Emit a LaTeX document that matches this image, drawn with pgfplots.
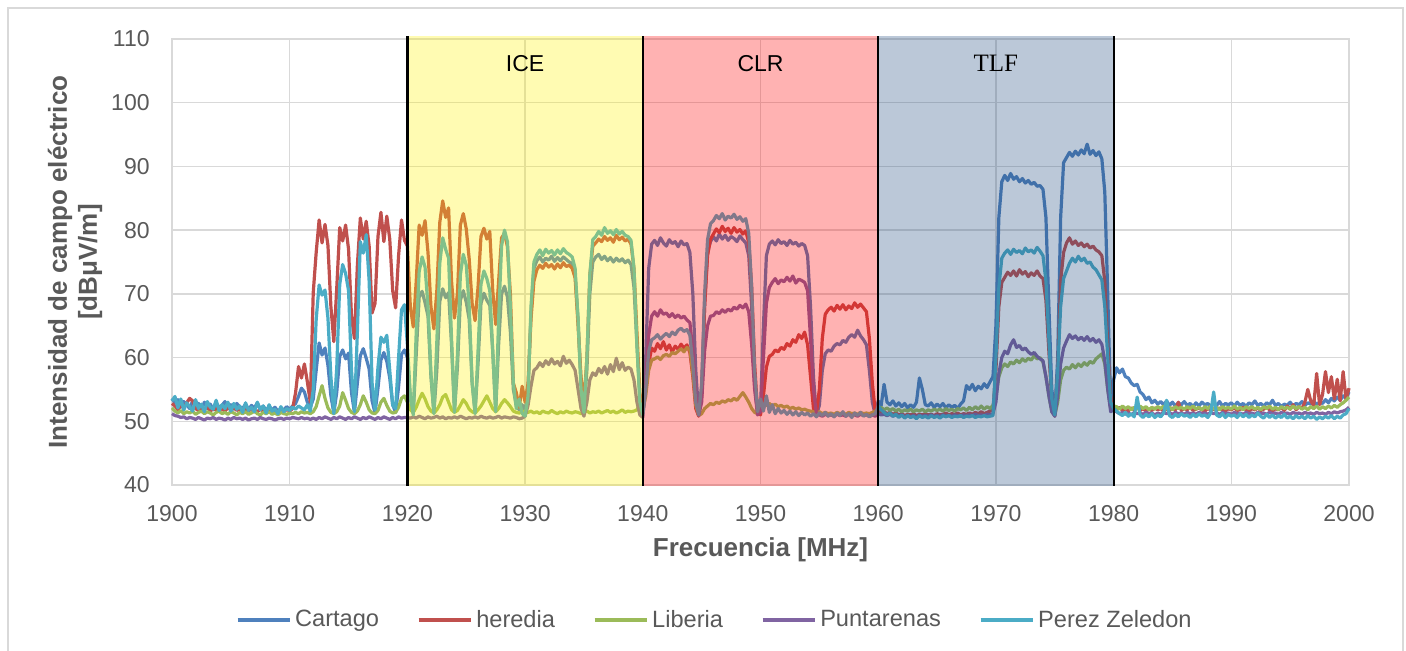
\documentclass[border=0pt]{standalone}
\usepackage{pgfplots}
\pgfplotsset{compat=1.18}
\usepackage{pgfplotstable}
\usepackage{fontspec}
\setmainfont{Liberation Sans}
\newfontfamily\serifband{Liberation Serif}

\definecolor{cartago}{HTML}{4F81BD}
\definecolor{heredia}{HTML}{C0504D}
\definecolor{liberia}{HTML}{9BBB59}
\definecolor{puntarenas}{HTML}{8064A2}
\definecolor{perez}{HTML}{4BACC6}
\definecolor{gridgray}{HTML}{D9D9D9}
\definecolor{textgray}{HTML}{595959}
\definecolor{tlfblue}{HTML}{1F497D}

% Field strength [dBuV/m] per station, 1900-2000 MHz in 0.25 MHz steps
\pgfplotstableread{
f car her lib pun pz
1900.00 53.6 52.8 52.1 51.2 53.2
1900.25 52.9 52.4 51.6 50.9 53.9
1900.50 53.4 51.8 51.3 50.8 52.1
1900.75 52.2 52.6 51.7 50.6 53.5
1901.00 53.1 52.1 51.2 50.7 51.8
1901.25 52.6 52.9 51.5 50.4 52.9
1901.50 52.0 53.6 51.3 50.6 52.3
1901.75 53.2 53.2 51.6 50.5 51.6
1902.00 52.4 52.0 51.1 50.3 53.4
1902.25 52.8 51.7 51.4 50.6 52.0
1902.50 51.9 52.3 51.6 50.4 52.7
1902.75 53.0 51.9 51.2 50.2 51.5
1903.00 52.3 52.2 51.5 50.5 53.1
1903.25 52.7 51.6 51.3 50.4 52.2
1903.50 51.8 52.0 51.0 50.6 51.9
1903.75 52.9 51.8 51.4 50.3 53.3
1904.00 52.2 52.3 51.6 50.5 51.7
1904.25 52.5 51.9 51.2 50.4 52.6
1904.50 53.1 51.6 51.4 50.2 52.0
1904.75 52.0 52.1 51.1 50.5 53.0
1905.00 52.6 51.8 51.5 50.3 51.6
1905.25 51.9 52.2 51.3 50.6 52.8
1905.50 52.8 51.7 51.0 50.4 51.9
1905.75 52.3 52.0 51.4 50.5 52.4
1906.00 52.0 51.5 51.2 50.3 51.4
1906.25 52.7 51.9 51.5 50.5 52.9
1906.50 51.8 51.6 51.1 50.2 51.7
1906.75 52.5 52.0 51.3 50.4 52.2
1907.00 52.1 51.7 51.6 50.5 51.5
1907.25 52.9 51.5 51.2 50.3 53.0
1907.50 51.9 51.9 51.0 50.6 51.8
1907.75 52.4 51.6 51.4 50.4 52.4
1908.00 51.7 51.8 51.2 50.3 51.3
1908.25 52.3 51.5 51.5 50.5 52.6
1908.50 51.8 51.7 51.1 50.4 51.6
1908.75 52.2 51.4 51.3 50.2 51.9
1909.00 51.6 51.6 51.0 50.4 51.2
1909.25 52.0 51.8 51.4 50.5 52.3
1909.50 51.8 51.5 51.2 50.3 51.5
1909.75 52.3 51.9 51.1 50.5 52.0
1910.00 51.9 51.6 51.3 50.4 51.7
1910.25 52.4 52.0 51.2 50.6 52.2
1910.50 52.8 54.5 51.4 50.5 51.9
1910.75 53.9 58.6 51.2 50.4 52.4
1911.00 55.2 56.8 51.5 50.6 52.1
1911.25 54.6 59.0 51.3 50.4 51.8
1911.50 53.0 56.2 51.4 50.5 52.6
1911.75 52.2 53.0 51.2 50.3 51.6
1912.00 53.5 70.2 51.5 50.5 55.0
1912.25 58.0 76.5 52.3 50.3 66.0
1912.50 62.3 81.6 54.0 50.6 71.4
1912.75 60.4 78.0 55.6 50.4 69.8
1913.00 61.5 80.9 53.6 50.7 70.6
1913.25 58.8 77.6 52.1 50.5 66.2
1913.50 54.0 68.0 51.4 50.3 57.0
1913.75 51.3 62.5 51.2 50.6 51.2
1914.00 54.6 71.0 51.5 50.4 58.5
1914.25 60.2 80.4 52.4 50.7 71.5
1914.50 61.2 78.3 54.5 50.5 74.6
1914.75 59.8 80.8 53.3 50.3 73.2
1915.00 60.7 77.0 52.0 50.6 70.5
1915.25 54.5 66.5 51.4 50.4 58.0
1915.50 51.4 63.0 51.2 50.7 51.5
1915.75 56.0 74.5 51.6 50.5 64.0
1916.00 60.3 81.9 52.6 50.3 78.2
1916.25 61.4 78.6 54.0 50.6 76.4
1916.50 59.9 81.4 53.0 50.4 79.3
1916.75 58.2 77.5 51.8 50.7 72.0
1917.00 53.2 67.0 51.3 50.5 56.0
1917.25 51.3 68.5 51.2 50.3 51.8
1917.50 55.2 79.0 51.7 50.6 58.5
1917.75 59.6 82.8 53.0 50.4 63.2
1918.00 60.8 78.2 53.6 50.7 62.4
1918.25 59.4 82.2 52.5 50.5 63.5
1918.50 56.8 78.6 51.6 50.3 58.0
1918.75 52.6 70.5 51.3 50.6 52.5
1919.00 51.4 67.8 51.4 50.4 52.0
1919.25 55.4 76.0 52.2 50.7 60.0
1919.50 60.5 81.6 53.6 50.5 67.5
1919.75 61.2 78.4 54.0 50.6 68.3
1920.00 60.0 77.5 53.0 50.6 62.0
1920.25 53.5 68.0 51.8 50.5 54.0
1920.50 51.2 64.8 51.4 50.7 51.0
1920.75 60.5 72.0 52.2 50.5 64.0
1921.00 69.5 80.8 53.4 50.8 73.5
1921.25 70.4 79.2 54.4 50.6 75.8
1921.50 68.6 81.5 53.5 50.4 74.2
1921.75 66.5 76.5 52.3 50.7 68.0
1922.00 57.0 68.0 51.6 50.5 57.5
1922.25 51.3 64.5 51.3 50.6 51.2
1922.50 58.0 70.5 51.8 50.8 62.5
1922.75 68.8 81.2 52.6 50.5 74.8
1923.00 70.8 84.6 53.8 50.7 78.8
1923.25 69.4 82.0 54.2 50.4 77.0
1923.50 70.2 83.5 53.0 50.6 75.6
1923.75 62.0 72.0 51.8 50.5 63.0
1924.00 51.5 66.2 51.4 50.7 51.4
1924.25 58.5 70.0 51.7 50.5 60.5
1924.50 69.0 80.8 52.5 50.8 73.0
1924.75 70.5 82.6 53.4 50.6 76.2
1925.00 68.7 80.2 52.8 50.4 74.5
1925.25 66.0 75.5 51.9 50.6 68.0
1925.50 56.0 68.5 51.5 50.5 56.0
1925.75 51.4 65.8 51.3 50.7 51.2
1926.00 59.0 71.0 51.8 50.5 61.0
1926.25 68.5 79.0 52.4 50.8 71.5
1926.50 70.1 80.3 53.2 50.6 73.6
1926.75 69.0 78.6 54.0 50.5 72.4
1927.00 68.2 79.8 53.0 50.7 70.5
1927.25 61.0 70.5 52.0 50.5 61.0
1927.50 51.6 65.2 51.5 50.6 51.5
1927.75 62.0 72.0 52.0 50.8 66.0
1928.00 70.0 78.8 52.8 50.5 77.5
1928.25 71.2 79.5 53.4 50.7 80.0
1928.50 69.5 77.4 52.9 50.6 78.2
1928.75 64.0 70.0 52.3 50.5 68.0
1929.00 55.0 56.0 51.6 50.7 56.0
1929.25 52.5 54.5 51.4 50.6 52.0
1929.50 51.8 52.2 51.3 50.4 53.5
1929.75 52.6 55.5 51.5 50.5 51.2
1930.00 51.5 53.0 51.6 50.8 50.8
1930.25 55.0 56.0 51.4 52.5 54.0
1930.50 67.0 66.0 51.6 55.5 68.0
1930.75 74.0 72.0 51.3 58.0 75.0
1931.00 75.2 73.8 51.5 58.4 76.2
1931.25 75.8 74.5 51.2 59.2 76.9
1931.50 75.0 74.0 51.6 58.6 76.0
1931.75 75.6 74.8 51.4 59.5 77.0
1932.00 75.3 74.2 51.3 58.9 76.4
1932.25 75.9 74.6 51.7 59.8 76.8
1932.50 75.1 73.9 51.4 59.0 76.1
1932.75 75.7 74.7 51.2 59.4 76.9
1933.00 75.2 74.1 51.5 58.7 76.3
1933.25 75.8 74.9 51.3 60.2 77.1
1933.50 75.4 74.3 51.6 59.1 76.5
1933.75 75.0 74.5 51.4 59.6 76.2
1934.00 74.8 74.0 51.3 58.9 75.8
1934.25 73.0 72.5 51.5 58.0 74.0
1934.50 66.0 65.0 51.4 55.0 66.0
1934.75 56.0 57.0 51.2 52.0 55.0
1935.00 51.5 52.8 51.4 50.8 51.4
1935.25 58.0 60.0 51.6 53.0 60.0
1935.50 70.0 73.0 51.3 56.5 73.0
1935.75 75.0 77.5 51.5 57.6 78.5
1936.00 75.8 78.0 51.4 57.2 79.0
1936.25 76.2 78.6 51.6 58.3 79.8
1936.50 75.4 78.2 51.3 57.6 79.2
1936.75 75.9 79.0 51.5 58.6 80.4
1937.00 75.2 78.4 51.7 57.4 79.5
1937.25 75.7 78.8 51.4 58.9 79.9
1937.50 75.0 78.1 51.6 57.8 79.3
1937.75 75.6 79.2 51.3 59.9 80.1
1938.00 75.1 78.5 51.5 58.1 79.4
1938.25 75.5 78.9 51.8 59.2 79.8
1938.50 74.9 78.3 51.4 58.0 79.2
1938.75 75.3 78.6 51.6 58.5 79.0
1939.00 74.6 77.8 51.5 58.2 78.4
1939.25 71.0 74.0 51.6 56.5 74.0
1939.50 62.0 64.0 51.8 53.0 62.0
1939.75 53.5 54.5 52.8 51.0 53.0
1940.00 51.2 51.6 51.5 50.6 51.0
1940.25 60.0 55.0 54.0 56.0 55.0
1940.50 74.0 59.0 58.0 63.5 61.0
1940.75 77.8 61.5 59.6 66.5 62.8
1941.00 78.4 61.0 59.8 67.2 63.1
1941.25 77.6 62.2 60.1 66.5 63.6
1941.50 78.8 61.4 59.7 67.5 62.9
1941.75 78.0 62.5 60.3 66.8 63.4
1942.00 77.5 61.2 60.5 67.0 63.8
1942.25 78.5 62.0 60.2 66.4 63.3
1942.50 77.9 60.9 60.8 66.9 64.0
1942.75 78.2 61.8 60.6 66.3 63.6
1943.00 77.4 61.3 61.0 66.7 64.3
1943.25 78.3 62.1 61.4 66.2 64.6
1943.50 77.7 61.5 60.9 66.5 64.1
1943.75 77.9 62.0 61.6 65.9 64.4
1944.00 76.5 60.8 61.2 65.5 63.5
1944.25 70.0 57.0 57.5 61.0 59.0
1944.50 58.0 52.0 52.5 54.0 53.0
1944.75 51.0 50.8 50.9 50.9 51.0
1945.00 55.0 54.0 51.2 53.0 56.0
1945.25 68.0 68.0 52.0 61.0 70.0
1945.50 76.5 76.0 52.4 65.0 78.5
1945.75 78.2 78.6 52.8 66.5 81.0
1946.00 79.0 79.4 52.6 66.6 81.5
1946.25 78.3 80.2 53.0 67.2 82.3
1946.50 79.4 79.6 52.8 66.9 81.8
1946.75 78.6 80.6 53.2 67.5 82.6
1947.00 79.2 79.8 53.0 67.1 81.6
1947.25 78.4 80.3 53.4 67.6 82.2
1947.50 79.0 79.5 53.2 67.3 81.9
1947.75 78.7 80.4 53.6 67.9 82.5
1948.00 78.2 79.7 53.3 67.6 81.7
1948.25 79.1 80.1 53.9 68.2 82.1
1948.50 78.5 79.4 54.5 67.8 81.4
1948.75 78.0 79.9 53.8 68.4 81.8
1949.00 76.0 78.0 53.0 67.2 79.5
1949.25 68.0 71.0 52.0 62.0 71.0
1949.50 56.0 59.0 51.4 55.0 58.0
1949.75 51.2 51.5 51.2 51.0 51.5
1950.00 52.0 51.0 52.2 51.5 53.5
1950.25 65.0 54.0 52.6 60.0 51.6
1950.50 76.0 58.5 52.5 68.5 54.0
1950.75 77.8 60.2 52.8 71.0 51.4
1951.00 78.3 60.5 52.4 71.8 52.6
1951.25 77.7 61.2 52.7 72.4 51.2
1951.50 78.5 60.9 52.3 71.6 52.0
1951.75 77.9 61.6 52.5 72.2 51.3
1952.00 78.2 61.3 52.2 71.9 51.7
1952.25 77.6 62.2 52.4 72.6 51.1
1952.50 78.4 61.8 52.0 72.0 51.6
1952.75 77.8 62.8 52.2 72.8 51.0
1953.00 78.1 62.4 51.9 71.7 51.5
1953.25 77.5 63.6 52.1 72.3 50.9
1953.50 77.9 63.0 51.8 72.1 51.4
1953.75 77.6 64.0 51.9 71.8 51.0
1954.00 76.0 62.0 51.7 70.5 51.3
1954.25 68.0 57.0 51.6 63.0 50.8
1954.50 57.0 52.0 51.5 55.0 51.2
1954.75 51.0 51.3 51.3 51.2 50.7
1955.00 52.5 55.0 51.5 51.0 51.3
1955.25 58.0 63.0 51.2 50.8 50.9
1955.50 60.6 66.8 51.4 51.1 51.4
1955.75 61.2 67.5 51.2 50.9 50.8
1956.00 61.0 67.9 51.3 51.0 51.2
1956.25 61.8 67.3 51.1 50.8 50.7
1956.50 62.2 68.2 51.4 51.1 51.3
1956.75 62.0 67.6 51.2 50.9 50.9
1957.00 62.7 68.3 51.3 51.0 51.5
1957.25 62.4 67.5 51.1 50.8 50.8
1957.50 63.2 68.1 51.4 51.1 51.2
1957.75 63.6 67.7 51.2 50.9 50.6
1958.00 63.2 68.6 51.3 51.0 51.3
1958.25 64.3 67.9 51.1 50.8 50.9
1958.50 63.4 68.4 51.4 51.1 51.4
1958.75 62.8 67.8 51.2 50.9 50.8
1959.00 62.0 67.2 51.3 51.0 51.1
1959.25 58.0 63.0 51.2 50.8 50.7
1959.50 53.0 56.0 51.4 51.0 51.0
1959.75 51.0 51.5 51.6 50.8 51.2
1960.00 53.2 51.6 51.9 51.2 52.4
1960.25 52.5 51.3 52.2 51.0 51.8
1960.50 55.8 51.5 51.8 51.1 51.4
1960.75 53.0 51.2 52.1 50.9 51.0
1961.00 52.6 51.4 51.7 51.1 51.3
1961.25 53.2 51.1 52.0 50.8 50.8
1961.50 52.4 51.3 51.6 51.0 51.1
1961.75 52.9 51.0 51.9 50.8 50.6
1962.00 52.3 51.2 51.5 51.0 51.0
1962.25 52.8 50.9 51.8 50.7 50.5
1962.50 52.1 51.1 51.6 50.9 50.9
1962.75 52.6 51.0 51.9 50.7 50.6
1963.00 52.2 51.2 51.5 50.9 50.8
1963.25 53.0 50.9 51.8 50.7 50.4
1963.50 56.8 51.1 51.6 50.9 50.9
1963.75 55.0 51.0 51.9 50.8 50.6
1964.00 52.6 51.2 51.5 50.9 50.8
1964.25 52.4 51.0 51.8 50.8 50.5
1964.50 52.9 51.1 51.6 51.0 50.9
1964.75 52.2 50.9 51.9 50.8 50.6
1965.00 52.7 51.2 51.7 50.9 50.8
1965.25 52.3 51.0 51.9 50.8 50.5
1965.50 52.8 51.1 51.6 51.0 50.9
1965.75 52.1 51.3 52.0 50.8 50.7
1966.00 52.6 51.0 51.7 50.9 50.9
1966.25 52.2 51.2 51.9 50.8 50.6
1966.50 52.5 51.1 51.6 51.0 50.8
1966.75 52.0 51.3 52.0 50.9 50.7
1967.00 52.7 51.0 51.8 50.8 50.9
1967.25 53.2 51.2 52.1 51.0 50.6
1967.50 55.6 51.1 51.7 50.9 50.8
1967.75 55.0 51.3 52.2 51.0 50.7
1968.00 55.8 51.1 51.8 50.9 50.9
1968.25 54.8 51.4 52.3 51.1 50.6
1968.50 55.5 51.2 51.9 50.9 50.8
1968.75 55.1 51.5 52.4 51.0 50.7
1969.00 55.9 51.2 51.9 50.9 50.9
1969.25 55.3 51.4 52.3 51.1 50.7
1969.50 56.2 51.6 52.0 51.0 50.8
1969.75 57.0 51.8 52.5 51.2 50.9
1970.00 65.0 58.0 54.0 53.0 60.0
1970.25 82.0 68.0 57.0 57.5 71.0
1970.50 87.6 71.8 58.4 60.0 75.6
1970.75 88.6 72.6 59.0 61.0 76.4
1971.00 87.8 73.4 58.6 60.6 76.9
1971.25 88.9 72.9 59.3 62.0 76.2
1971.50 88.0 73.6 59.0 62.8 77.0
1971.75 88.4 72.8 59.6 61.6 76.5
1972.00 87.6 73.8 59.2 61.9 76.8
1972.25 88.1 73.1 59.8 61.2 76.3
1972.50 87.4 73.5 59.4 61.5 77.2
1972.75 87.8 72.7 59.9 60.9 76.6
1973.00 87.2 73.3 59.6 60.5 76.9
1973.25 87.5 72.9 60.3 60.8 76.4
1973.50 86.9 73.6 59.8 60.2 77.3
1973.75 87.0 72.8 60.0 59.8 76.7
1974.00 86.4 72.4 59.3 59.5 76.0
1974.25 82.0 69.0 57.0 57.0 72.0
1974.50 68.0 61.0 54.0 54.0 63.0
1974.75 55.0 53.0 51.5 51.5 53.5
1975.00 51.0 50.8 50.9 50.8 51.0
1975.25 60.0 58.0 53.0 54.0 58.0
1975.50 82.0 72.0 56.5 59.0 68.0
1975.75 90.6 76.5 58.0 61.5 72.4
1976.00 91.4 78.0 58.5 62.6 73.6
1976.25 92.2 78.8 58.2 63.6 74.8
1976.50 91.6 77.8 58.9 63.0 75.6
1976.75 92.4 78.3 58.4 63.4 75.0
1977.00 91.8 77.6 59.0 62.8 75.9
1977.25 92.6 78.0 58.6 63.2 75.2
1977.50 92.0 77.4 59.2 62.7 75.6
1977.75 93.5 77.8 58.8 63.3 74.8
1978.00 91.9 77.2 59.4 62.6 75.0
1978.25 92.5 77.5 59.1 63.0 74.2
1978.50 91.7 76.9 59.8 62.4 73.8
1978.75 92.3 76.6 60.2 62.8 73.0
1979.00 91.2 76.0 60.6 62.1 72.2
1979.25 86.0 72.0 59.0 59.5 68.0
1979.50 70.0 62.0 55.0 55.0 60.0
1979.75 52.5 54.0 52.0 51.5 53.0
1980.00 56.5 52.0 52.4 51.8 52.0
1980.25 58.4 51.8 52.3 51.5 51.6
1980.50 57.6 52.2 51.9 51.2 51.2
1980.75 58.2 51.7 52.4 51.4 50.9
1981.00 57.0 52.0 52.0 51.1 51.4
1981.25 56.8 51.6 52.3 51.3 50.8
1981.50 56.0 52.1 51.8 51.0 51.2
1981.75 55.6 51.8 52.2 51.4 50.7
1982.00 55.8 52.3 51.9 51.2 53.8
1982.25 54.6 51.7 52.4 51.3 51.0
1982.50 54.2 52.0 52.0 51.1 50.6
1982.75 53.4 51.6 52.3 51.4 51.1
1983.00 53.8 51.9 51.8 51.2 50.7
1983.25 52.9 51.7 52.2 51.3 51.2
1983.50 53.3 52.1 51.9 51.0 50.6
1983.75 52.7 51.8 52.3 51.3 51.0
1984.00 53.1 52.0 52.0 51.1 50.7
1984.25 52.6 51.6 52.4 51.4 51.3
1984.50 53.2 51.9 51.9 51.2 53.3
1984.75 52.5 51.7 52.2 51.3 50.9
1985.00 53.0 52.1 51.8 51.1 50.6
1985.25 52.4 51.8 52.3 51.4 51.1
1985.50 52.9 53.0 52.0 51.2 50.7
1985.75 52.6 51.7 52.2 51.3 51.2
1986.00 53.1 52.0 51.9 51.1 50.8
1986.25 52.5 51.8 52.3 51.4 51.0
1986.50 52.8 52.2 52.0 51.2 50.6
1986.75 52.3 51.7 52.4 51.3 51.1
1987.00 52.9 51.9 51.9 51.1 50.7
1987.25 52.4 52.1 52.2 51.4 51.2
1987.50 53.0 51.8 51.8 51.2 50.8
1987.75 52.6 51.6 52.3 51.3 51.0
1988.00 52.8 52.0 52.0 51.1 50.6
1988.25 52.3 51.8 52.4 51.4 51.3
1988.50 52.9 51.9 51.9 51.2 54.6
1988.75 52.5 51.7 52.2 51.3 51.0
1989.00 53.1 52.1 51.8 51.1 50.7
1989.25 52.4 51.8 52.3 51.4 51.2
1989.50 52.8 51.6 52.0 51.2 50.6
1989.75 52.6 52.0 52.2 51.3 51.1
1990.00 52.9 51.8 51.9 51.1 50.8
1990.25 52.4 52.1 52.4 51.4 51.0
1990.50 53.0 51.7 51.9 51.2 50.6
1990.75 52.5 51.9 52.2 51.3 51.2
1991.00 52.8 52.2 51.8 51.1 50.7
1991.25 52.3 51.8 52.3 51.4 51.1
1991.50 52.9 51.6 52.0 51.2 50.6
1991.75 52.6 52.0 52.3 51.3 51.0
1992.00 53.2 51.8 51.9 51.1 50.7
1992.25 52.5 52.1 52.2 51.4 51.3
1992.50 52.8 51.7 51.8 51.2 50.8
1992.75 52.4 51.9 52.3 51.3 50.5
1993.00 52.9 52.2 52.0 51.1 51.1
1993.25 52.6 51.8 52.4 51.4 50.6
1993.50 53.3 51.6 51.9 51.2 51.0
1993.75 52.5 52.0 52.2 51.3 50.5
1994.00 52.8 51.8 51.8 51.1 50.9
1994.25 52.3 52.2 52.3 51.4 50.6
1994.50 52.7 51.7 52.0 51.2 51.1
1994.75 52.5 52.4 52.2 51.3 50.5
1995.00 53.0 51.9 51.9 51.1 50.8
1995.25 52.4 52.6 52.4 51.4 50.4
1995.50 52.8 51.8 52.0 51.2 50.9
1995.75 52.6 52.3 52.3 51.3 50.5
1996.00 53.1 52.0 51.9 51.1 50.8
1996.25 52.5 53.0 52.2 51.4 50.4
1996.50 52.9 55.0 51.8 51.2 50.9
1996.75 52.7 53.2 52.3 51.3 50.5
1997.00 53.2 52.5 52.0 51.1 50.8
1997.25 52.6 57.5 52.4 51.4 50.3
1997.50 53.0 52.6 51.9 51.2 50.7
1997.75 52.8 54.2 52.3 51.3 50.4
1998.00 53.4 57.8 52.0 51.1 50.8
1998.25 52.9 54.5 52.4 51.4 50.5
1998.50 53.6 57.0 52.1 51.2 50.9
1998.75 53.2 53.5 52.5 51.5 50.4
1999.00 53.8 56.6 52.2 51.3 50.8
1999.25 53.3 53.2 52.6 51.5 50.5
1999.50 54.0 57.8 52.9 51.6 51.0
1999.75 53.6 53.4 53.3 51.8 51.2
2000.00 54.6 55.2 53.8 52.2 52.0
}\spectrum

\begin{document}
\begin{tikzpicture}
% page frame and chart area border
\useasboundingbox (0pt,0pt) rectangle (703pt,-325pt);
\draw[gridgray, line width=0.75pt] (4pt,-4pt) rectangle (701.5pt,-345pt);
\begin{axis}[
  at={(86pt,-242.5pt)}, anchor=south west,
  scale only axis, width=588.5pt, height=223pt,
  xmin=1900, xmax=2000, ymin=40, ymax=110,
  xtick={1900,1910,...,2000}, ytick={40,50,...,110},
  /pgf/number format/1000 sep={},
  /pgf/number format/assume math mode=true,
  major tick length=0pt,
  grid=major,
  major grid style={gridgray, line width=0.75pt},
  axis line style={gridgray, line width=0.75pt},
  tick label style={font=\fontsize{11.5}{13}\selectfont, text=textgray},
  xticklabel style={anchor=center, inner sep=0pt, yshift=-14.5pt},
  yticklabel style={anchor=east, inner sep=0pt, xshift=-11pt},
  xlabel={Frecuencia [MHz]},
  xlabel style={font=\fontsize{13}{15}\selectfont\bfseries, text=textgray,
    at={(axis description cs:0.5,-0.1457)}, anchor=center},
  ylabel={Intensidad de campo eléctrico\\{[dBμV/m]}},
  ylabel style={font=\fontsize{13}{15}\selectfont\bfseries, text=textgray,
    align=center, at={(axis description cs:-0.0824,0.5)}, anchor=center},
  clip=false,
  legend columns=5,
  legend style={at={(axis description cs:0.462,-0.3027)}, anchor=center,
    draw=none, fill=none, font=\fontsize{11.8}{14}\selectfont, text=textgray,
    /tikz/every even column/.append style={column sep=17pt}},
  legend image code/.code={\draw[#1] (0pt,0pt) -- (26pt,0pt);},
  every axis plot/.append style={line width=1.6pt, line join=round},
]
\addplot[cartago]    table[x=f, y=car] {\spectrum};
\addlegendentry{Cartago}
\addplot[heredia]    table[x=f, y=her] {\spectrum};
\addlegendentry{heredia}
\addplot[liberia]    table[x=f, y=lib] {\spectrum};
\addlegendentry{Liberia}
\addplot[puntarenas] table[x=f, y=pun] {\spectrum};
\addlegendentry{Puntarenas}
\addplot[perez]      table[x=f, y=pz]  {\spectrum};
\addlegendentry{Perez Zeledon}

% operator bands, laid over the traces
\fill[yellow, opacity=0.3]  (axis cs:1920,39.85) rectangle (axis cs:1940,110.45);
\fill[red, opacity=0.3]     (axis cs:1940,39.85) rectangle (axis cs:1960,110.45);
\fill[tlfblue, opacity=0.3] (axis cs:1960,39.85) rectangle (axis cs:1980,110.45);
\pgfplotsinvokeforeach{1920,1940,1960,1980}{
  \draw[black, line width=1.1pt] (axis cs:#1,39.85) -- (axis cs:#1,110.45);
}
\node[font=\fontsize{11.5}{13}\selectfont] at (axis cs:1930,106.2) {ICE};
\node[font=\fontsize{11.5}{13}\selectfont] at (axis cs:1950,106.2) {CLR};
\node[font=\serifband\fontsize{12.5}{14}\selectfont] at (axis cs:1970,106.2) {TLF};
\end{axis}
\end{tikzpicture}
\end{document}
